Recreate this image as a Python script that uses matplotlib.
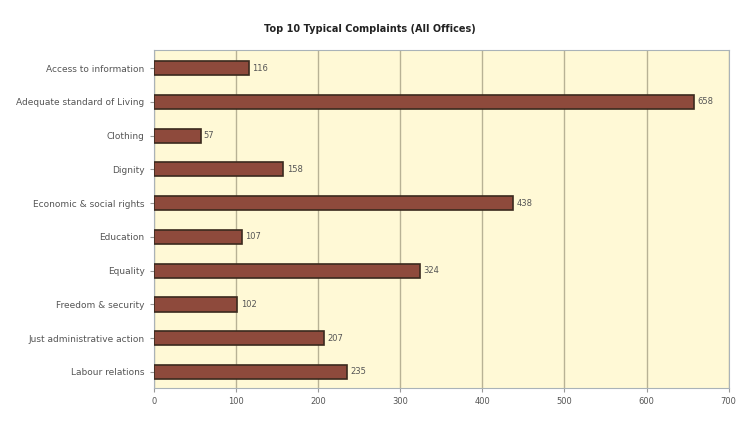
import matplotlib
matplotlib.use("Agg")
import matplotlib.pyplot as plt

categories = ["Access to information", "Adequate standard of Living", "Clothing",
              "Dignity", "Economic & social rights", "Education", "Equality",
              "Freedom & security", "Just administrative action", "Labour relations"]
counts = [116, 658, 57, 158, 438, 107, 324, 102, 207, 235]
xticks = [0, 100, 200, 300, 400, 500, 600, 700]

fig = plt.figure(figsize=(7.39, 4.29), dpi=100)
ax = fig.add_axes([0.208, 0.096, 0.778, 0.787])
ax.set_facecolor("#fff9d6")

ypos = list(range(len(categories)))
ax.barh(ypos, counts, height=0.42, color="#8e4a3c", edgecolor="#3b2a1e", linewidth=1.2, zorder=3)
for y, v in zip(ypos, counts):
    ax.text(v + 4, y, str(v), va="center", ha="left", fontsize=6, color="#555555", zorder=4)

ax.set_yticks(ypos)
ax.set_yticklabels(categories, fontsize=6.5, color="#555555")
ax.set_ylim(len(categories) - 0.53, -0.53)
ax.set_xlim(0, 700)
ax.set_xticks(xticks)
ax.set_xticklabels([str(t) for t in xticks], fontsize=6, color="#555555")
ax.xaxis.grid(True, color="#b8b295", linewidth=1, zorder=0)
ax.tick_params(axis="both", length=3, color="#999999")
for s in ax.spines.values():
    s.set_color("#aab3b8")

fig.text(0.5, 0.932, "Top 10 Typical Complaints (All Offices)", ha="center", va="center",
         fontsize=7, fontweight="bold", color="#222222")

fig.savefig("out.png", dpi=100)
